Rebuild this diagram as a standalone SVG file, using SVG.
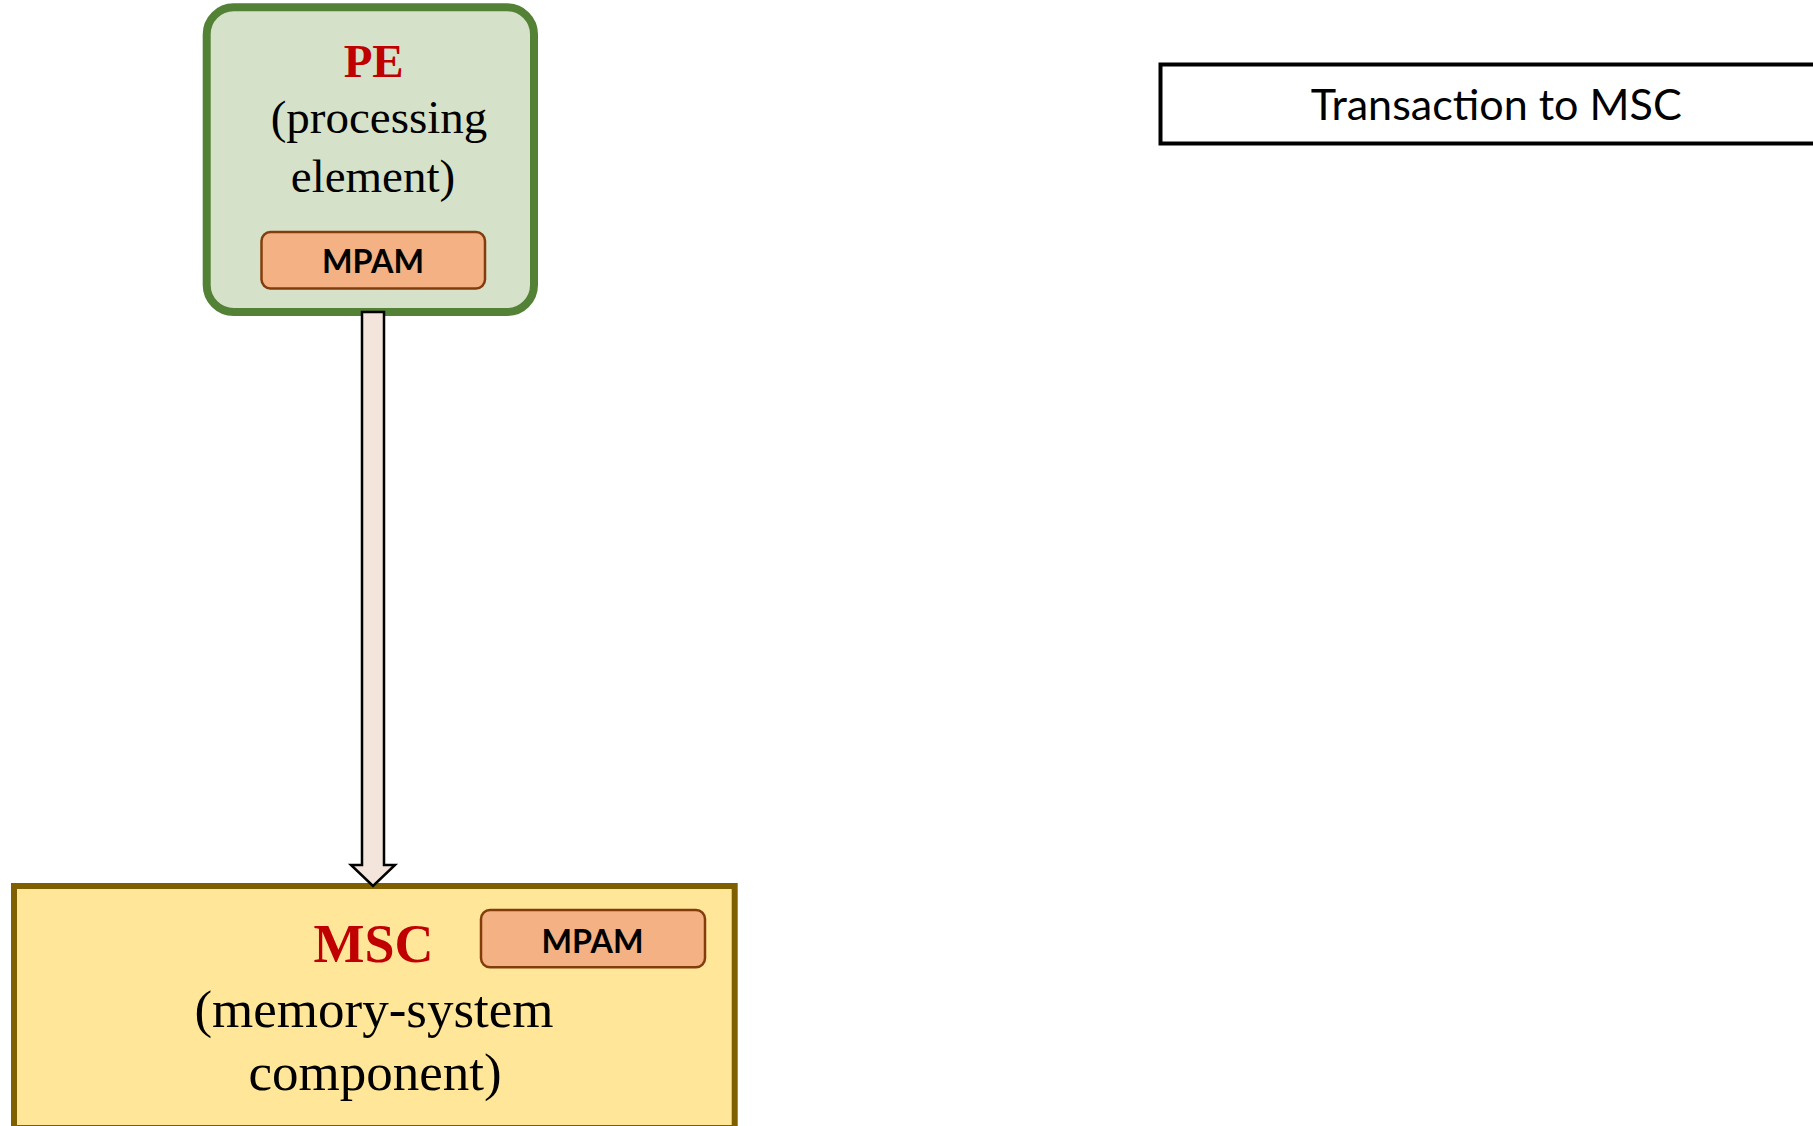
<svg xmlns="http://www.w3.org/2000/svg" width="1813" height="1126" viewBox="0 0 1813 1126">
<style>
.serif{font-family:"Liberation Serif","Times New Roman",serif;}
.title{font-weight:bold;fill:#C00000;}
.sub{fill:#000;}
.mpam-box{fill:#F4B183;stroke:#843C0C;stroke-width:2.5;}
.mpam-txt{font-family:Lato,"Liberation Sans",sans-serif;font-weight:bold;font-size:32px;fill:#000;}
</style>
<rect width="1813" height="1126" fill="#FFFFFF"/>
<g id="msc">
<rect x="14" y="886" width="720.7" height="242" fill="#FFE699" stroke="#7F6000" stroke-width="6"/>
<text class="serif title" x="373.5" y="961.7" font-size="54" text-anchor="middle">MSC</text>
<text class="serif sub" x="374" y="1026.7" font-size="53" text-anchor="middle">(memory-system</text>
<text class="serif sub" x="375" y="1090" font-size="53" text-anchor="middle">component)</text>
<g id="msc-mpam">
<rect class="mpam-box" x="481" y="910" width="224" height="57.3" rx="9"/>
<text class="mpam-txt" x="592.5" y="952.7" text-anchor="middle" textLength="102" lengthAdjust="spacingAndGlyphs">MPAM</text>
</g>
</g>
<g id="pe">
<rect x="206.7" y="7.3" width="327.3" height="304.7" rx="27" fill="#D5E2C9" stroke="#538135" stroke-width="8"/>
<text class="serif title" x="373.7" y="76.7" font-size="47" text-anchor="middle">PE</text>
<text class="serif sub" x="379" y="133" font-size="47" text-anchor="middle">(processing</text>
<text class="serif sub" x="373" y="191.7" font-size="47" text-anchor="middle">element)</text>
<g id="pe-mpam">
<rect class="mpam-box" x="261.5" y="232" width="223.5" height="56.5" rx="9"/>
<text class="mpam-txt" x="373" y="273" text-anchor="middle" textLength="102" lengthAdjust="spacingAndGlyphs">MPAM</text>
</g>
</g>
<g id="connectors">
<polygon points="362,312 384,312 384,865 395,865 373,886 351,865 362,865" fill="#F3E5DB" stroke="#000" stroke-width="2.5" stroke-linejoin="miter"/>
</g>
<g id="legend">
<rect x="1160.5" y="64.5" width="700" height="79" fill="#FFFFFF" stroke="#000" stroke-width="4"/>
<text x="1496.2" y="120" font-family="Lato,'Liberation Sans',sans-serif" font-size="42" text-anchor="middle" textLength="371" lengthAdjust="spacingAndGlyphs">Transaction to MSC</text>
</g>
</svg>
